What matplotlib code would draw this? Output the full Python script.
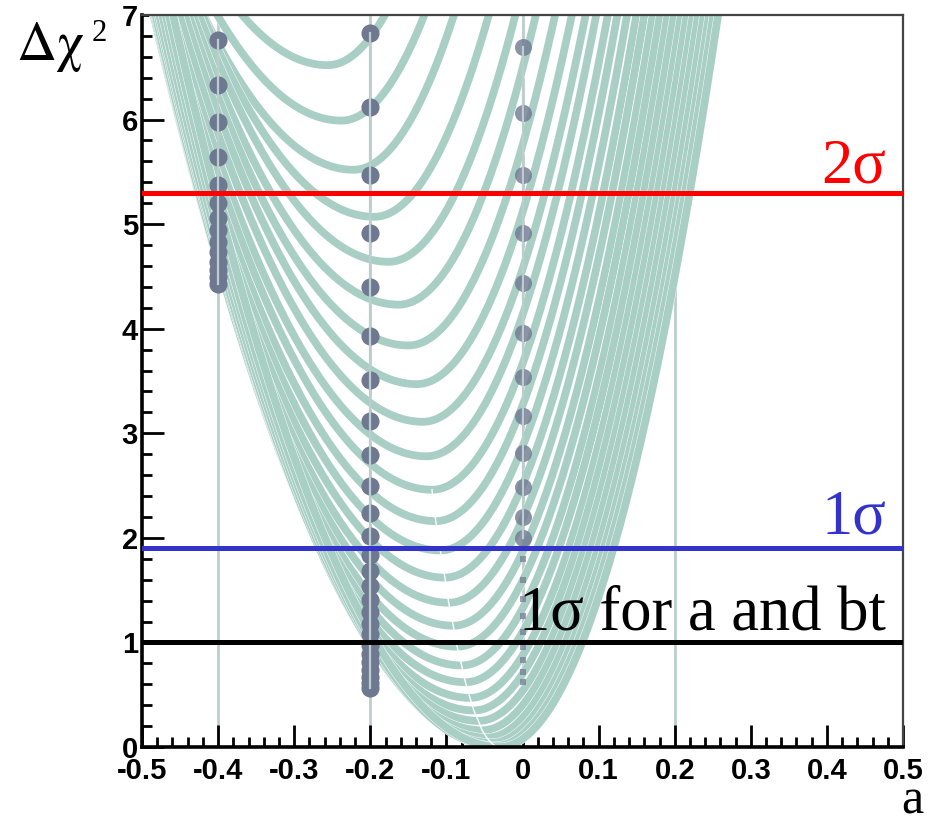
import numpy as np
import matplotlib
matplotlib.use("Agg")
import matplotlib.pyplot as plt
import matplotlib.patheffects as pe
from matplotlib.ticker import MultipleLocator

# minima of the chi2 curves (one curve per fixed bt)
curve_min_x = [-0.030, -0.036, -0.041, -0.047, -0.053, -0.058, -0.064, -0.069, -0.075,
               -0.080, -0.086, -0.091, -0.097, -0.102, -0.108, -0.114, -0.119, -0.126,
               -0.131, -0.139, -0.150, -0.163, -0.176, -0.195, -0.222, -0.238, -0.256]
curve_min_y = [0.00, 0.01, 0.04, 0.09, 0.16, 0.25, 0.35, 0.47, 0.62,
               0.78, 0.96, 1.16, 1.38, 1.62, 1.88, 2.16, 2.46, 2.78,
               3.11, 3.47, 3.84, 4.23, 4.64, 5.07, 5.52, 5.99, 6.52]
curv_left, curv_right = 38.0, 85.0

# scan points at fixed a
dots_m04 = [6.76, 6.33, 5.98, 5.64, 5.37, 5.20, 5.06, 4.94, 4.83, 4.73, 4.64, 4.56, 4.49, 4.43]
dots_m02 = [6.83, 6.12, 5.47, 4.92, 4.40, 3.93, 3.51, 3.12, 2.79, 2.50, 2.24, 2.02, 1.84,
            1.68, 1.54, 1.41, 1.29, 1.18, 1.08, 0.98, 0.89, 0.81, 0.74, 0.67, 0.61, 0.56]
dots_0 = [6.69, 6.06, 5.47, 4.92, 4.44, 3.96, 3.54, 3.17, 2.81, 2.49, 2.20, 2.00]
dots_0_small = [1.80, 1.60, 1.42, 1.25, 1.10, 0.96, 0.83, 0.72, 0.62]
scan_a = [-0.4, -0.2, 0.0, 0.2]

levels = [5.3, 1.9, 1.0]
level_colors = ["#ff0000", "#3333cc", "#000000"]
level_labels = ["2σ", "1σ", "1σ for a and bt"]
label_y = [5.40, 2.04, 1.12]

green = "#a9cfc5"
dotc = "#6f7891"
serif = ["Liberation Serif", "DejaVu Serif"]

fig = plt.figure(figsize=(9.3, 8.23), dpi=100)
ax = fig.add_axes([0.1527, 0.0923, 0.8183, 0.8895])

for a in scan_a:
    ax.axvline(a, color="#bccdcd", lw=2.0, zorder=1.5)

xs = np.linspace(-0.5, 0.5, 2001)
for m, c in zip(curve_min_y[::-1], curve_min_x[::-1]):
    d = xs - c
    y = m + np.where(d < 0, curv_left, curv_right) * d**2
    y = np.where(y < 7.6, y, np.nan)
    ax.plot(xs, y, color=green, lw=5.6, solid_capstyle="butt", zorder=2,
            path_effects=[pe.Stroke(linewidth=6.2, foreground="white"), pe.Normal()])
ax.plot(curve_min_x[:17], curve_min_y[:17], color="white", lw=1.0, zorder=2.2)

ax.scatter([-0.4] * len(dots_m04), dots_m04, s=170, color=dotc, lw=0, zorder=3)
ax.scatter([-0.2] * len(dots_m02), dots_m02, s=170, color=dotc, lw=0, zorder=3)
ax.scatter([0.0] * len(dots_0), dots_0, s=150, color=dotc, lw=0, alpha=0.8, zorder=3)
ax.scatter([0.0] * len(dots_0_small), dots_0_small, s=25, marker="s", color=dotc, lw=0,
           alpha=0.7, zorder=3)
for a, col in zip(scan_a[:3], [dots_m04, dots_m02, dots_0]):
    ax.plot([a, a], [min(col), max(col)], color="#bccdcd", lw=1.6, zorder=3.5)

for lev, col, lab, ly in zip(levels, level_colors, level_labels, label_y):
    ax.axhline(lev, color=col, lw=3.6, zorder=5)
    ax.text(0.478, ly, lab, color=col, ha="right", va="baseline", fontsize=45,
            family=serif, zorder=6)

ax.set_xlim(-0.5, 0.5)
ax.set_ylim(0, 7)
ax.xaxis.set_minor_locator(MultipleLocator(0.02))
ax.yaxis.set_major_locator(MultipleLocator(1))
ax.yaxis.set_minor_locator(MultipleLocator(0.2))
ax.set_xticks(np.round(np.arange(-0.5, 0.51, 0.1), 1))
ax.set_xticklabels(["-0.5", "-0.4", "-0.3", "-0.2", "-0.1", "0", "0.1", "0.2", "0.3", "0.4", "0.5"])
ax.tick_params(which="both", direction="in", top=False, right=False, width=2.0, color="black")
ax.tick_params(which="major", length=16)
ax.tick_params(which="minor", length=7)
ax.tick_params(axis="x", pad=7)
ax.tick_params(axis="y", pad=3)
for lab in ax.get_xticklabels() + ax.get_yticklabels():
    lab.set_fontsize(21)
    lab.set_fontweight("bold")
    lab.set_family("Liberation Sans")
ax.spines["left"].set_linewidth(2.6)
ax.spines["bottom"].set_linewidth(2.6)
ax.spines["top"].set_linewidth(1.6)
ax.spines["right"].set_linewidth(1.6)
ax.spines["top"].set_color("#444444")
ax.spines["right"].set_color("#444444")

fig.text(0.018, 0.927, "Δχ", fontsize=40, family=["STIXGeneral", "Liberation Serif"],
         va="baseline", ha="left")
fig.text(0.099, 0.950, "2", fontsize=22, family=serif, va="baseline", ha="left")
fig.text(0.993, 0.012, "a", fontsize=36, family=serif, va="baseline", ha="right")

fig.savefig("out.png", dpi=100)
